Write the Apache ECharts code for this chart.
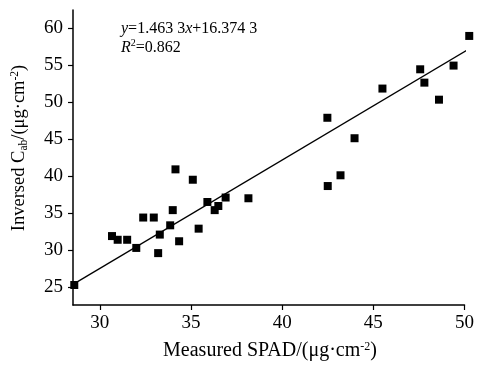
<!DOCTYPE html>
<html>
<head>
<meta charset="utf-8">
<script src="https://cdn.jsdelivr.net/npm/echarts@6/dist/echarts.min.js"></script>
<style>html,body{margin:0;padding:0;background:#fff}#c{width:477px;height:366px}</style>
</head>
<body>
<div id="c"></div>
<script>
const measuredSPAD = [28.6, 30.67, 30.98, 31.5, 32.0, 32.38, 32.96, 33.2, 33.29, 33.86, 34.0, 34.15, 34.35, 35.1, 35.42, 35.9, 36.3, 36.5, 36.9, 38.15, 42.48, 42.5, 43.2, 43.97, 45.5, 47.57, 47.8, 48.6, 49.4, 50.26];
const inversedCab = [25.3, 31.9, 31.4, 31.4, 30.3, 34.4, 34.4, 29.6, 32.1, 33.35, 35.4, 40.9, 31.2, 39.5, 32.9, 36.5, 35.4, 35.96, 37.1, 37.0, 47.86, 38.65, 40.1, 45.1, 51.8, 54.4, 52.6, 50.3, 54.9, 58.9];
const fitLineX = [28.6, 50.26];
const fitLineY = [25.48, 57.17];
const xTicks = [30, 35, 40, 45, 50];
const yTicks = [25, 30, 35, 40, 45, 50, 55, 60];

const serif = '"Liberation Serif", "Times New Roman", serif';
const chart = echarts.init(document.getElementById('c'), null, {renderer: 'canvas'});
chart.setOption({
  animation: false,
  backgroundColor: '#fff',
  grid: {left: 73, right: 10, top: 10, bottom: 61},
  xAxis: {
    type: 'value', min: 28.53, max: 50,
    axisLine: {show: true, lineStyle: {color: '#000', width: 1.5}},
    axisTick: {show: true, length: 5, customValues: xTicks, lineStyle: {color: '#000', width: 1.2}},
    axisLabel: {customValues: xTicks, color: '#000', fontFamily: serif, fontSize: 19, margin: 9},
    splitLine: {show: false}
  },
  yAxis: {
    type: 'value', min: 22.6, max: 62.4,
    axisLine: {show: true, lineStyle: {color: '#000', width: 1.5}},
    axisTick: {show: true, length: 5, customValues: yTicks, lineStyle: {color: '#000', width: 1.2}},
    axisLabel: {customValues: yTicks, color: '#000', fontFamily: serif, fontSize: 19, margin: 10},
    splitLine: {show: false}
  },
  series: [
    {
      type: 'line',
      data: fitLineX.map((x, i) => [x, fitLineY[i]]),
      symbol: 'none',
      lineStyle: {color: '#000', width: 1.3},
      clip: false,
      z: 2
    },
    {
      type: 'scatter',
      data: measuredSPAD.map((x, i) => [x, inversedCab[i]]),
      symbol: 'rect',
      symbolSize: 8,
      itemStyle: {color: '#000', opacity: 1},
      clip: false,
      z: 3
    }
  ],
  graphic: [
    {
      type: 'text', left: 121, top: 21,
      style: {
        text: '{i|y}=1.463 3{i|x}+16.374 3',
        fontFamily: serif, fontSize: 16, fill: '#000',
        rich: {i: {fontFamily: serif, fontSize: 16, fontStyle: 'italic'}}
      }
    },
    {
      type: 'text', left: 121, top: 38,
      style: {
        text: '{i|R}{sup|2}{n|=0.862}',
        fontFamily: serif, fontSize: 16, fill: '#000',
        rich: {
          i: {fontFamily: serif, fontSize: 16, fontStyle: 'italic', lineHeight: 20},
          n: {fontFamily: serif, fontSize: 16, lineHeight: 20},
          sup: {fontFamily: serif, fontSize: 10, lineHeight: 20, padding: [0, 0, 9, 0]}
        }
      }
    },
    {
      type: 'text', x: 270, y: 351,
      style: {
        text: 'Measured SPAD/(μg·cm{sup|-2})',
        fontFamily: serif, fontSize: 20, fill: '#000',
        align: 'center', verticalAlign: 'middle',
        rich: {sup: {fontFamily: serif, fontSize: 12, padding: [0, 0, 9, 0]}}
      }
    },
    {
      type: 'text', x: 19, y: 148, rotation: Math.PI / 2,
      style: {
        text: 'Inversed C{sub|ab}/(μg·cm{sup|-2})',
        fontFamily: serif, fontSize: 18.5, fill: '#000',
        align: 'center', verticalAlign: 'middle',
        rich: {
          sub: {fontFamily: serif, fontSize: 11.5, padding: [9, 0, 0, 0]},
          sup: {fontFamily: serif, fontSize: 11.5, padding: [0, 0, 9, 0]}
        }
      }
    }
  ]
});
</script>
</body>
</html>
